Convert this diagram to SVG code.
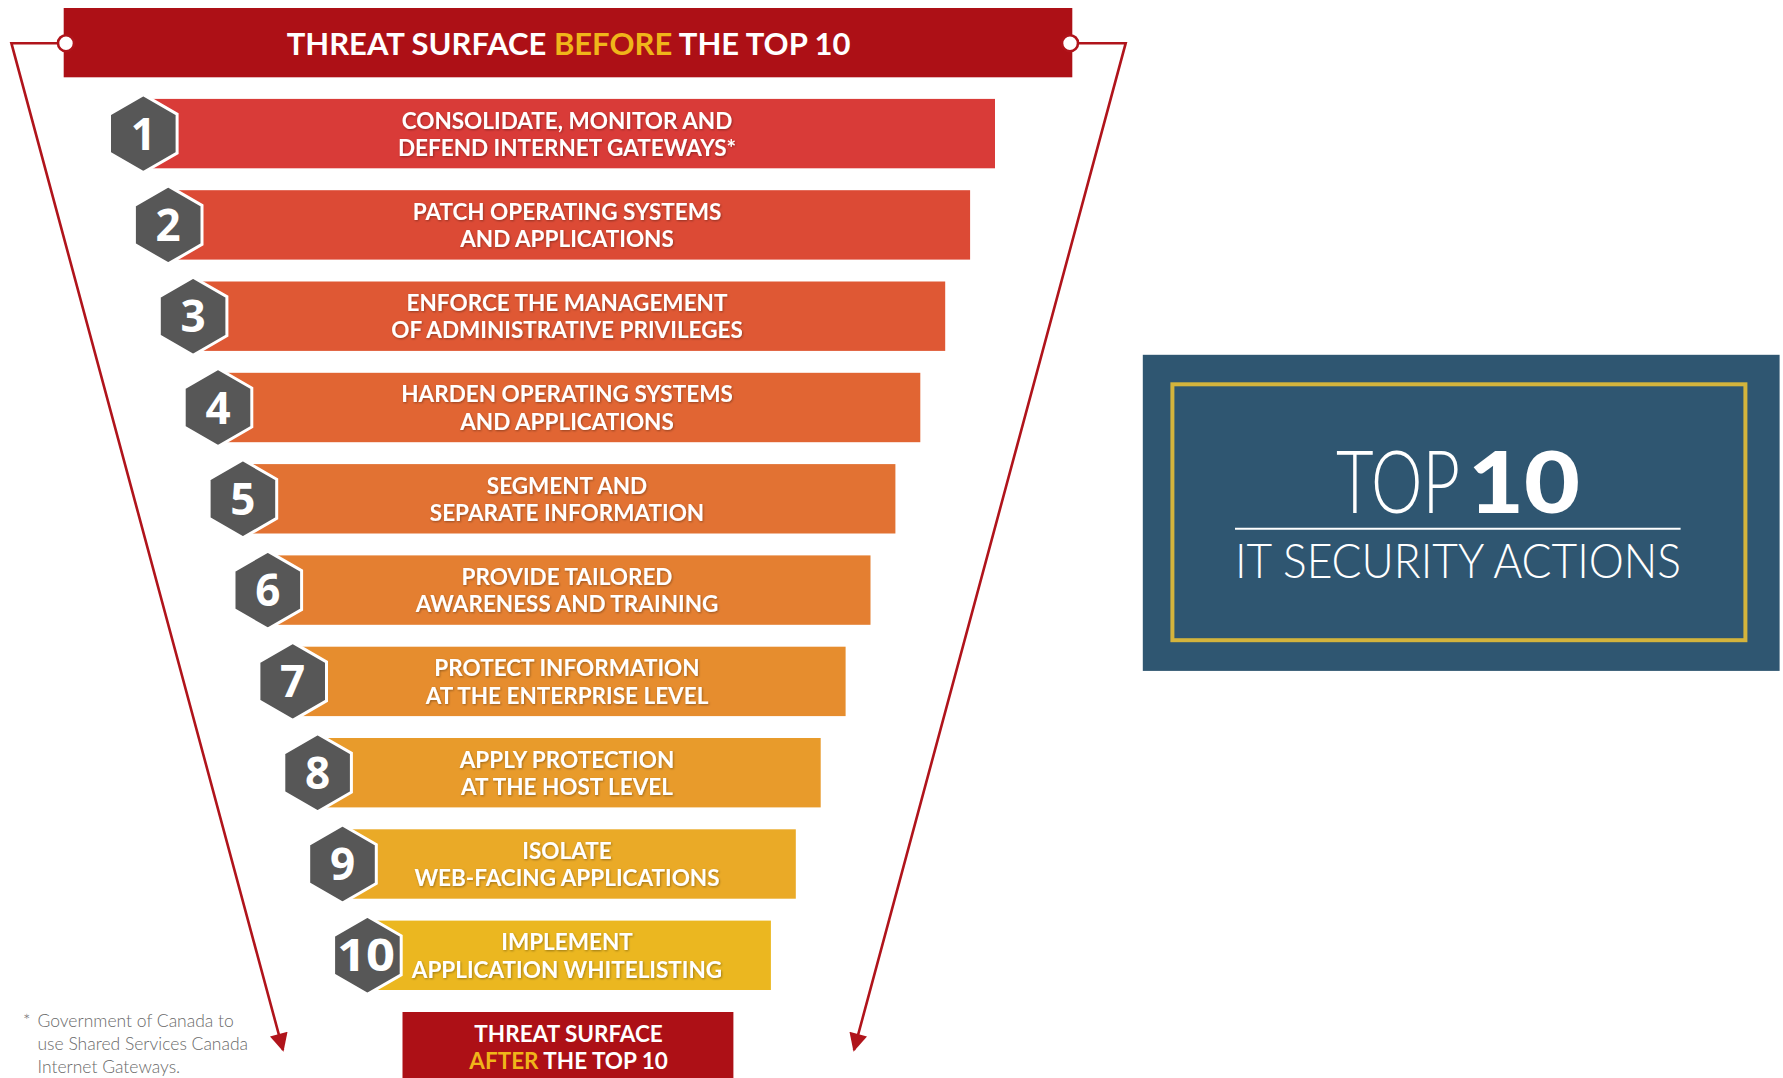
<svg xmlns="http://www.w3.org/2000/svg" width="1783" height="1078" viewBox="0 0 1783 1078">
<style>
.hdr{font-family:Lato,"Liberation Sans",sans-serif;font-weight:700;fill:#fff;text-anchor:middle}
.yel{fill:#F0B51A}
.bt{font-family:Lato,"Liberation Sans",sans-serif;font-weight:700;font-size:22.5px;fill:#fff;text-anchor:middle;filter:url(#sh)}
.num{font-family:"Open Sans","Liberation Sans",sans-serif;font-weight:700;font-size:44px;fill:#fff;text-anchor:middle}
.hex{fill:#575757;stroke:#fff;stroke-width:3;stroke-linejoin:miter}
.foot{font-family:Lato,"Liberation Sans",sans-serif;font-weight:300;font-size:17.5px;fill:#6a6a6a}
.conn{fill:none;stroke:#B0141B;stroke-width:2.6}
.dot{fill:#fff;stroke:#B0141B;stroke-width:2.6}
.badge{font-family:Lato,"Liberation Sans",sans-serif;fill:#fff}
</style>
<defs>
<filter id="sh" x="-10%" y="-30%" width="120%" height="160%"><feDropShadow dx="0.8" dy="1" stdDeviation="0.8" flood-color="#000" flood-opacity="0.35"/></filter>
<marker id="ah" viewBox="0 0 10 10" refX="9" refY="5" markerWidth="8" markerHeight="7" orient="auto" markerUnits="strokeWidth"><path d="M0,0 L10,5 L0,10 z" fill="#B0141B"/></marker>
<polygon id="hx" points="0,-39 33.8,-19.5 33.8,19.5 0,39 -33.8,19.5 -33.8,-19.5"/>
</defs>
<rect width="1783" height="1078" fill="#fff"/>

<g id="connectors">
<path class="conn" d="M66,43.2 L11.4,43.2 L283,1050" marker-end="url(#ah)"/>
<path class="conn" d="M1070,43.2 L1125.7,43.2 L854,1050" marker-end="url(#ah)"/>
</g>

<g id="header">
<rect x="63.7" y="8" width="1008.6" height="69.3" fill="#AD1016"/>
<text class="hdr" x="568.6" y="54.6" font-size="31">THREAT SURFACE <tspan class="yel">BEFORE</tspan> THE TOP 10</text>
</g>
<circle class="dot" cx="66" cy="43.2" r="8"/>
<circle class="dot" cx="1070" cy="43.2" r="8"/>

<g id="step1"><rect x="143.3" y="98.9" width="851.7" height="69.4" fill="#D93B38"/><use href="#hx" class="hex" x="143.3" y="133.6"/><text class="num" x="143.3" y="149.6">1</text><text class="bt" x="567" y="128.5">CONSOLIDATE, MONITOR AND</text><text class="bt" x="567" y="155.8">DEFEND INTERNET GATEWAYS*</text></g>
<g id="step2"><rect x="168.2" y="190.2" width="801.9" height="69.4" fill="#DC4A35"/><use href="#hx" class="hex" x="168.2" y="224.9"/><text class="num" x="168.2" y="240.9">2</text><text class="bt" x="567" y="219.8">PATCH OPERATING SYSTEMS</text><text class="bt" x="567" y="247.1">AND APPLICATIONS</text></g>
<g id="step3"><rect x="193.1" y="281.5" width="752.1" height="69.4" fill="#DF5834"/><use href="#hx" class="hex" x="193.1" y="316.2"/><text class="num" x="193.1" y="332.2">3</text><text class="bt" x="567" y="311.1">ENFORCE THE MANAGEMENT</text><text class="bt" x="567" y="338.4">OF ADMINISTRATIVE PRIVILEGES</text></g>
<g id="step4"><rect x="218" y="372.8" width="702.3" height="69.4" fill="#E16533"/><use href="#hx" class="hex" x="218" y="407.5"/><text class="num" x="218" y="423.5">4</text><text class="bt" x="567" y="402.4">HARDEN OPERATING SYSTEMS</text><text class="bt" x="567" y="429.7">AND APPLICATIONS</text></g>
<g id="step5"><rect x="242.9" y="464.1" width="652.5" height="69.4" fill="#E27233"/><use href="#hx" class="hex" x="242.9" y="498.8"/><text class="num" x="242.9" y="514.8">5</text><text class="bt" x="567" y="493.7">SEGMENT AND</text><text class="bt" x="567" y="521">SEPARATE INFORMATION</text></g>
<g id="step6"><rect x="267.8" y="555.4" width="602.7" height="69.4" fill="#E47F31"/><use href="#hx" class="hex" x="267.8" y="590.1"/><text class="num" x="267.8" y="606.1">6</text><text class="bt" x="567" y="585">PROVIDE TAILORED</text><text class="bt" x="567" y="612.3">AWARENESS AND TRAINING</text></g>
<g id="step7"><rect x="292.7" y="646.7" width="552.9" height="69.4" fill="#E68D2E"/><use href="#hx" class="hex" x="292.7" y="681.4"/><text class="num" x="292.7" y="697.4">7</text><text class="bt" x="567" y="676.3">PROTECT INFORMATION</text><text class="bt" x="567" y="703.6">AT THE ENTERPRISE LEVEL</text></g>
<g id="step8"><rect x="317.6" y="738" width="503.1" height="69.4" fill="#E89B2B"/><use href="#hx" class="hex" x="317.6" y="772.7"/><text class="num" x="317.6" y="788.7">8</text><text class="bt" x="567" y="767.6">APPLY PROTECTION</text><text class="bt" x="567" y="794.9">AT THE HOST LEVEL</text></g>
<g id="step9"><rect x="342.5" y="829.3" width="453.3" height="69.4" fill="#EAAA27"/><use href="#hx" class="hex" x="342.5" y="864"/><text class="num" x="342.5" y="880">9</text><text class="bt" x="567" y="858.9">ISOLATE</text><text class="bt" x="567" y="886.2">WEB-FACING APPLICATIONS</text></g>
<g id="step10"><rect x="367.4" y="920.6" width="403.5" height="69.4" fill="#EBB720"/><use href="#hx" class="hex" x="367.4" y="955.3"/><text class="num" x="366" y="971.3" textLength="58" lengthAdjust="spacingAndGlyphs">10</text><text class="bt" x="567" y="950.2">IMPLEMENT</text><text class="bt" x="567" y="977.5">APPLICATION WHITELISTING</text></g>

<g id="after">
<rect x="402.5" y="1012" width="330.9" height="66" fill="#AD1016"/>
<text class="hdr" x="568.6" y="1041.6" font-size="22.5">THREAT SURFACE</text>
<text class="hdr" x="568.6" y="1068.8" font-size="22.5"><tspan class="yel">AFTER</tspan> THE TOP 10</text>
</g>

<g id="footnote">
<text class="foot" x="23" y="1027">*</text>
<text class="foot" x="37.5" y="1027">Government of Canada to</text>
<text class="foot" x="37.5" y="1050">use Shared Services Canada</text>
<text class="foot" x="37.5" y="1073">Internet Gateways.</text>
</g>

<g id="top10-badge">
<rect x="1142.8" y="354.8" width="636.8" height="316.1" fill="#2F5671"/>
<rect x="1172.4" y="384.3" width="573" height="255.9" fill="none" stroke="#D4B43C" stroke-width="4"/>
<text class="badge" x="1336" y="512.8" font-size="86" font-weight="300" textLength="124" lengthAdjust="spacingAndGlyphs">TOP</text>
<text class="badge" x="1468" y="512.8" font-size="86" font-weight="900" textLength="112" lengthAdjust="spacingAndGlyphs">10</text>
<line x1="1235" y1="528.7" x2="1680.6" y2="528.7" stroke="#fff" stroke-width="2"/>
<text class="badge" x="1458" y="577.6" font-weight="300" font-size="48" text-anchor="middle" textLength="446" lengthAdjust="spacingAndGlyphs">IT SECURITY ACTIONS</text>
</g>
</svg>
